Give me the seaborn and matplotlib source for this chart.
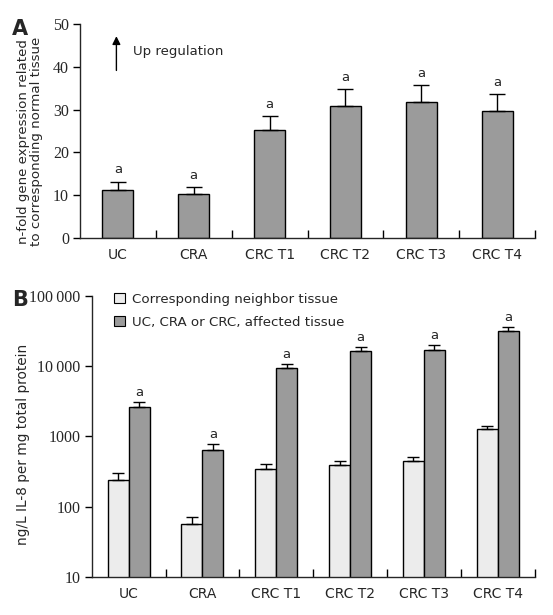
import numpy as np
import pandas as pd
import matplotlib
matplotlib.use("Agg")
import matplotlib.pyplot as plt
from matplotlib.ticker import FixedLocator, NullLocator
import seaborn as sns

# ---------------- data ----------------
categories = ["UC", "CRA", "CRC T1", "CRC T2", "CRC T3", "CRC T4"]
fold_mean = [11.2, 10.3, 25.2, 30.8, 31.7, 29.6]
fold_err = [2.0, 1.5, 3.2, 4.0, 4.1, 4.1]

neighbor_mean = [237, 56, 340, 387, 441, 1257]
neighbor_err = [61, 14.5, 60, 54, 62, 145]
affected_mean = [2612, 640, 9270, 16190, 16720, 31120]
affected_err = [430, 129, 1300, 2230, 2960, 4360]
series_names = ["Corresponding neighbor tissue", "UC, CRA or CRC, affected tissue"]

ylabel_a = "n-fold gene expression related\nto corresponding normal tissue"
ylabel_b = "ng/L IL-8 per mg total protein"
yticks_b = [10, 100, 1000, 10000, 100000]
yticklabels_b = ["10", "100", "1000", "10\u2009000", "100\u2009000"]

DARK = "#9b9b9b"
LIGHT = "#ececec"

sns.set_style("ticks")
plt.rcParams["font.family"] = ["DejaVu Sans"]
plt.rcParams["axes.linewidth"] = 1.0
SERIF = ["Liberation Serif", "DejaVu Serif"]

W, H = 553, 615
fig = plt.figure(figsize=(W / 100, H / 100), dpi=100)

def px_axes(l, t, r, b):
    return fig.add_axes([l / W, 1 - b / H, (r - l) / W, (b - t) / H])

# ---------------- Panel A ----------------
axA = px_axes(80, 24, 535, 238)
dfA = pd.DataFrame({"cat": categories, "val": fold_mean})
sns.barplot(data=dfA, x="cat", y="val", ax=axA, color=DARK, saturation=1,
            width=0.41, edgecolor="black", linewidth=1.0, errorbar=None)
axA.errorbar(categories, fold_mean, yerr=[np.zeros(len(fold_err)), fold_err],
             fmt="none", ecolor="black", elinewidth=1.0, capsize=5.5, capthick=1.0)
for c, m, e in zip(categories, fold_mean, fold_err):
    axA.text(c, m + e + 1.2, "a", ha="center", va="bottom", fontsize=9.5)
axA.set_xlim(-0.5, 5.5)
axA.set_ylim(0, 50)
axA.set_yticks([0, 10, 20, 30, 40, 50])
axA.set_ylabel(ylabel_a, fontsize=9.6, linespacing=1.05)
axA.yaxis.set_label_coords(-0.081, 0.45)
axA.set_xlabel("")
axA.annotate("", xy=(-0.02, 47.8), xytext=(-0.02, 38.5),
             arrowprops=dict(arrowstyle="-|>", color="black", lw=1.0,
                             mutation_scale=12))
axA.text(0.20, 43.6, "Up regulation", fontsize=9.5, va="center", ha="left")
fig.text(19.5 / W, 1 - 29 / H, "A", fontsize=15, fontweight="bold",
         ha="center", va="center")

# ---------------- Panel B ----------------
axB = px_axes(91.7, 295.7, 534.7, 577)
dfB = pd.DataFrame({
    "cat": categories * 2,
    "val": neighbor_mean + affected_mean,
    "grp": [series_names[0]] * len(categories) + [series_names[1]] * len(categories),
})
sns.barplot(data=dfB, x="cat", y="val", hue="grp", ax=axB,
            palette=[LIGHT, DARK], saturation=1, width=0.57, gap=0,
            edgecolor="black", linewidth=1.0, errorbar=None)
axB.set_yscale("log")
for cont, means, errs, mark in zip(axB.containers, [neighbor_mean, affected_mean],
                                    [neighbor_err, affected_err], [False, True]):
    xs = [p.get_x() + p.get_width() / 2 for p in cont.patches]
    axB.errorbar(xs, means, yerr=[np.zeros(len(errs)), errs], fmt="none",
                 ecolor="black", elinewidth=1.0, capsize=4.5, capthick=1.0)
    if mark:
        for x, m, e in zip(xs, means, errs):
            axB.text(x, (m + e) * 1.12, "a", ha="center", va="bottom", fontsize=9.5)
axB.set_xlim(-0.5, 5.5)
axB.set_ylim(10, 100000)
axB.yaxis.set_major_locator(FixedLocator(yticks_b))
axB.yaxis.set_minor_locator(NullLocator())
axB.set_yticklabels(yticklabels_b)
axB.set_ylabel(ylabel_b, fontsize=9.8)
axB.yaxis.set_label_coords(-0.139, 0.473)
axB.set_xlabel("")
leg = axB.legend(loc="upper left", bbox_to_anchor=(114 / W, 1 - 293 / H),
                 bbox_transform=fig.transFigure, frameon=False, fontsize=9.6,
                 handlelength=0.8, handleheight=0.8, handletextpad=0.55,
                 labelspacing=0.72, borderaxespad=0, borderpad=0)
for h in leg.legend_handles:
    h.set_edgecolor("black")
    h.set_linewidth(0.8)
fig.text(20 / W, 1 - 299.5 / H, "B", fontsize=15, fontweight="bold",
         ha="center", va="center")

# ---------------- common styling ----------------
for ax in (axA, axB):
    sns.despine(ax=ax)
    ax.set_xticks(range(len(categories)))
    ax.set_xticklabels(categories, fontsize=10)
    ax.xaxis.set_minor_locator(FixedLocator(np.arange(0.5, len(categories), 1.0)))
    ax.tick_params(axis="x", which="major", length=0, pad=7)
    ax.tick_params(axis="x", which="minor", direction="in", length=6, width=1.0,
                   color="black")
    ax.tick_params(axis="y", which="major", direction="out", length=5, width=1.0,
                   color="black", pad=3)
    for lab in ax.get_yticklabels():
        lab.set_family(SERIF)
        lab.set_fontsize(11.5)

fig.savefig("out.png", dpi=100)
